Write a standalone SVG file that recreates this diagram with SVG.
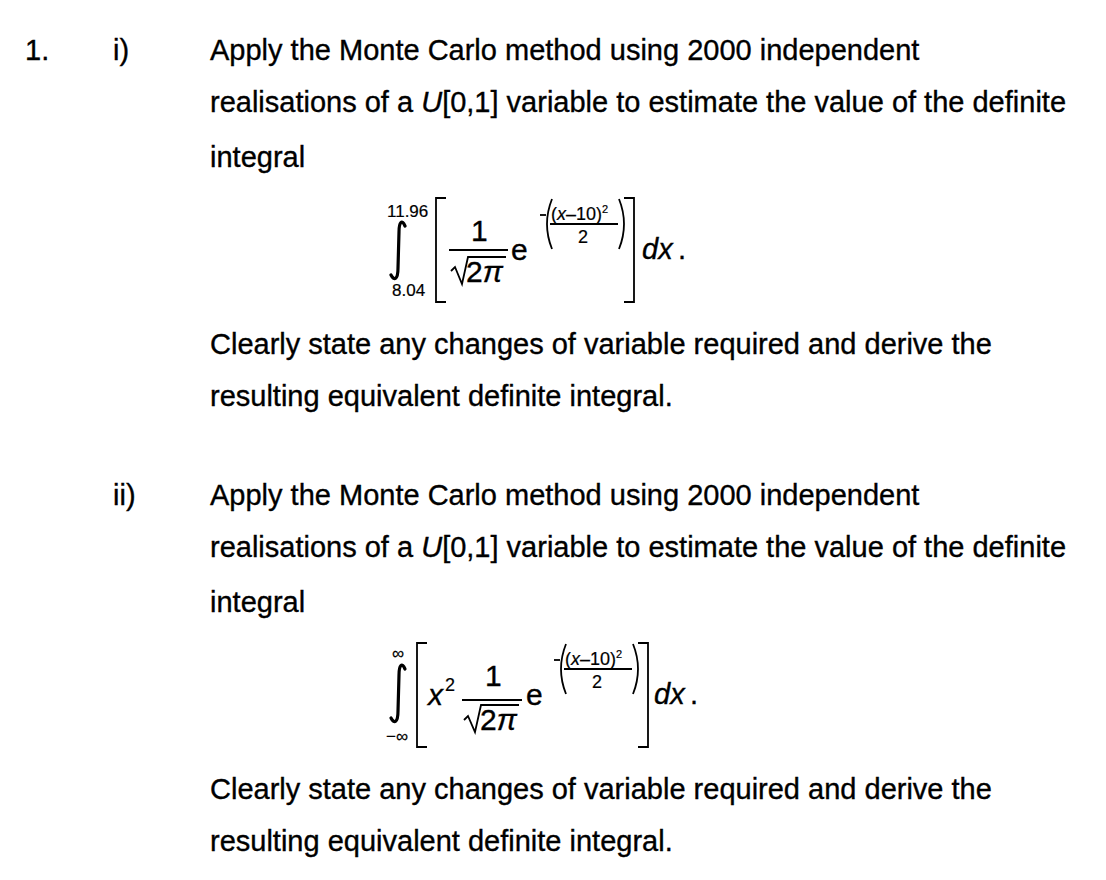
<svg xmlns="http://www.w3.org/2000/svg" width="1106" height="880" viewBox="0 0 1106 880">
<style>
text{font-family:"Liberation Sans",Arial,sans-serif;fill:#000;stroke:#000;stroke-width:0.35}
.t{font-size:29px}
.m{font-size:30px}
.s{font-size:17px;stroke-width:0.2}
.x{font-size:18px;stroke-width:0.2}
.i{font-style:italic}
.ln{stroke:#000;stroke-width:1.8;fill:none}
.ig{stroke:#000;stroke-width:3.2;fill:none;stroke-linecap:round}
</style>
<rect width="1106" height="880" fill="#fff"/>
<text class="t" x="25" y="60">1.</text>
<text class="t" x="113" y="60">i)</text>
<text class="t" x="210" y="60">Apply the Monte Carlo method using 2000 independent</text>
<text class="t" x="210" y="112">realisations of a <tspan class="i">U</tspan>[0,1] variable to estimate the value of the definite</text>
<text class="t" x="210" y="167">integral</text>
<g id="formula1">
<path class="ig" d="M405,226 C402,219 399,222 399,232 L398,268 C398,280 394,281 391,275"/>
<text class="s" x="387" y="217">11.96</text>
<text class="s" x="392" y="296">8.04</text>
<path class="ln" d="M446,198 L436,198 L436,302 L446,302"/>
<text class="m" x="471" y="241">1</text>
<line class="ln" x1="449" y1="250" x2="508" y2="250"/>
<path class="ln" d="M451,271 L455,267 L462,284 L468,257 L506,257"/>
<text class="m" x="466" y="282">2<tspan class="i">π</tspan></text>
<text class="m" x="511" y="260">e</text>
<line class="ln" x1="540" y1="215" x2="546" y2="215"/>
<path class="ln" d="M552,199 Q542,224 552,249"/>
<text class="x" x="551" y="220">(<tspan class="i">x</tspan>–10)<tspan font-size="11" dy="-7">2</tspan></text>
<line class="ln" stroke-width="1" x1="550" y1="224" x2="618" y2="224"/>
<text class="x" x="578" y="243">2</text>
<path class="ln" d="M619,199 Q629,224 619,249"/>
<path class="ln" d="M624,198 L634,198 L634,302 L624,302"/>
<text class="t i" x="642" y="259">dx</text>
<text class="t" x="678" y="259">.</text>
</g>
<text class="t" x="210" y="354">Clearly state any changes of variable required and derive the</text>
<text class="t" x="210" y="406">resulting equivalent definite integral.</text>
<text class="t" x="113" y="505">ii)</text>
<text class="t" x="210" y="505">Apply the Monte Carlo method using 2000 independent</text>
<text class="t" x="210" y="557">realisations of a <tspan class="i">U</tspan>[0,1] variable to estimate the value of the definite</text>
<text class="t" x="210" y="612">integral</text>
<g id="formula2">
<path class="ig" d="M405,669 C402,662 399,665 399,675 L398,711 C398,723 394,724 391,718"/>
<text class="s" x="392" y="659">∞</text>
<text class="s" x="386" y="742">−∞</text>
<path class="ln" d="M427,643 L417,643 L417,747 L427,747"/>
<text class="m i" x="428" y="705">x</text>
<text class="x" x="445" y="691">2</text>
<text class="m" x="485" y="686">1</text>
<line class="ln" x1="462" y1="700" x2="522" y2="700"/>
<path class="ln" d="M464,720 L468,716 L475,732 L481,705 L519,705"/>
<text class="m" x="480" y="730">2<tspan class="i">π</tspan></text>
<text class="m" x="526" y="705">e</text>
<line class="ln" x1="554" y1="660" x2="560" y2="660"/>
<path class="ln" d="M566,644 Q556,669 566,694"/>
<text class="x" x="565" y="665">(<tspan class="i">x</tspan>–10)<tspan font-size="11" dy="-7">2</tspan></text>
<line class="ln" stroke-width="1" x1="564" y1="669" x2="632" y2="669"/>
<text class="x" x="592" y="688">2</text>
<path class="ln" d="M633,644 Q643,669 633,694"/>
<path class="ln" d="M638,643 L648,643 L648,747 L638,747"/>
<text class="t i" x="654" y="704">dx</text>
<text class="t" x="690" y="704">.</text>
</g>
<text class="t" x="210" y="799">Clearly state any changes of variable required and derive the</text>
<text class="t" x="210" y="851">resulting equivalent definite integral.</text>
</svg>
